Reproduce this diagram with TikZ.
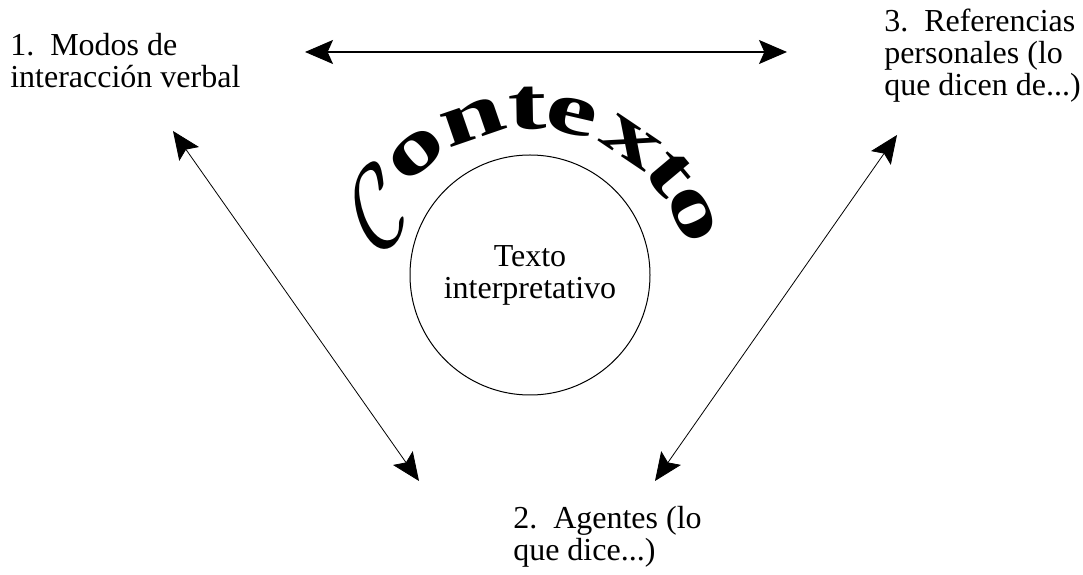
\documentclass[tikz,border=0pt]{standalone}
\usepackage{fontspec}
\setmainfont{Liberation Serif}
\usetikzlibrary{arrows.meta}

\begin{document}
\begin{tikzpicture}[x=0.75pt, y=0.75pt,
	etiqueta/.style={font=\fontsize{24}{24}\selectfont, align=left, anchor=north west, inner sep=0pt},
	flecha/.style={arrows={Stealth[length=21pt,width=18pt,inset=4pt]-Stealth[length=21pt,width=18pt,inset=4pt]}},
	letra/.style={font=\fontsize{56}{56}\selectfont\bfseries, anchor=base, inner sep=0pt}]

	\useasboundingbox (0,0) rectangle (1083,575);

	\node [etiqueta] (modos) at (10,542) {1.\ \ Modos de\\interacción verbal};
	\node [etiqueta] (refs) at (884,566) {3.\ \ Referencias\\personales (lo\\que dicen de...)};
	\node [etiqueta] (agentes) at (513,69) {2.\ \ Agentes (lo\\que dice...)};

	\node [draw, circle, line width=0.75pt, minimum size=180pt, inner sep=0pt, align=center, font=\fontsize{24}{24}\selectfont] (texto) at (530,300) {Texto\\interpretativo};

	\coordinate (modosD) at (305,523);
	\coordinate (refsI) at (787,523);
	\coordinate (modosB) at (173,444);
	\coordinate (agentesI) at (419,94);
	\coordinate (refsB) at (897,440);
	\coordinate (agentesD) at (655,94);

	\draw [flecha, line width=1pt] (modosD) -- (refsI);
	\draw [flecha, line width=0.6pt] (modosB) -- (agentesI);
	\draw [flecha, line width=0.6pt] (refsB) -- (agentesD);

	% Contexto en arco
	\coordinate (arco) at (531,285);
	\node [letra, anchor=center, rotate=28] (ctx0) at (378,368) {\fontsize{24}{24}\selectfont\scalebox{2.6}[3.5]{$\mathcal{C}$}};
	\foreach \ch/\ang [count=\i] in {o/130, n/109, t/91, e/77, x/56, t/40, o/25}
		\node [letra, rotate=\ang-90] (ctx\i) at ([shift={(\ang:161)}]arco) {\scalebox{1.55}[1]{\ch}};

\end{tikzpicture}
\end{document}
